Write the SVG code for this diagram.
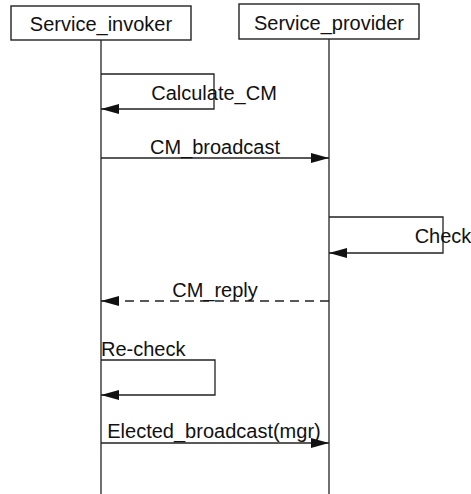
<svg xmlns="http://www.w3.org/2000/svg" width="471" height="494" viewBox="0 0 471 494">
<style>
.box{fill:#fff;stroke:#222;stroke-width:1.4}
.ln{fill:none;stroke:#222;stroke-width:1.3}
.dash{stroke-dasharray:9 6}
text{font-family:"Liberation Sans",Arial,sans-serif;font-size:20px;fill:#111}
</style>
<defs>
<marker id="ah" viewBox="0 0 18 10" refX="18" refY="5" markerWidth="18" markerHeight="10" markerUnits="userSpaceOnUse" orient="auto">
<path d="M0,0 L18,5 L0,10 Z" fill="#111"/>
</marker>
</defs>
<g id="connectors">
<line class="ln" x1="101" y1="40" x2="101" y2="494"/>
<line class="ln" x1="329" y1="39" x2="329" y2="494"/>
<polyline class="ln" points="101,74 214,74 214,109 101,109" marker-end="url(#ah)"/>
<line class="ln" x1="101" y1="158" x2="329" y2="158" marker-end="url(#ah)"/>
<polyline class="ln" points="329,217 443,217 443,253 329,253" marker-end="url(#ah)"/>
<line class="ln dash" x1="329" y1="301" x2="101" y2="301" marker-end="url(#ah)"/>
<polyline class="ln" points="101,360 215,360 215,395 101,395" marker-end="url(#ah)"/>
<line class="ln" x1="101" y1="443" x2="329" y2="443" marker-end="url(#ah)"/>
<text x="214" y="100" text-anchor="middle">Calculate_CM</text>
<text x="215" y="154" text-anchor="middle">CM_broadcast</text>
<text x="443" y="243" text-anchor="middle">Check</text>
<text x="215" y="297" text-anchor="middle">CM_reply</text>
<text x="101" y="356">Re-check</text>
<text x="214" y="438" text-anchor="middle">Elected_broadcast(mgr)</text>
</g>
<g id="Service_invoker">
<rect class="box" x="11" y="6" width="180" height="34"/>
<text x="101" y="31" text-anchor="middle">Service_invoker</text>
</g>
<g id="Service_provider">
<rect class="box" x="239" y="4" width="180" height="35"/>
<text x="329" y="29.5" text-anchor="middle">Service_provider</text>
</g>
</svg>
